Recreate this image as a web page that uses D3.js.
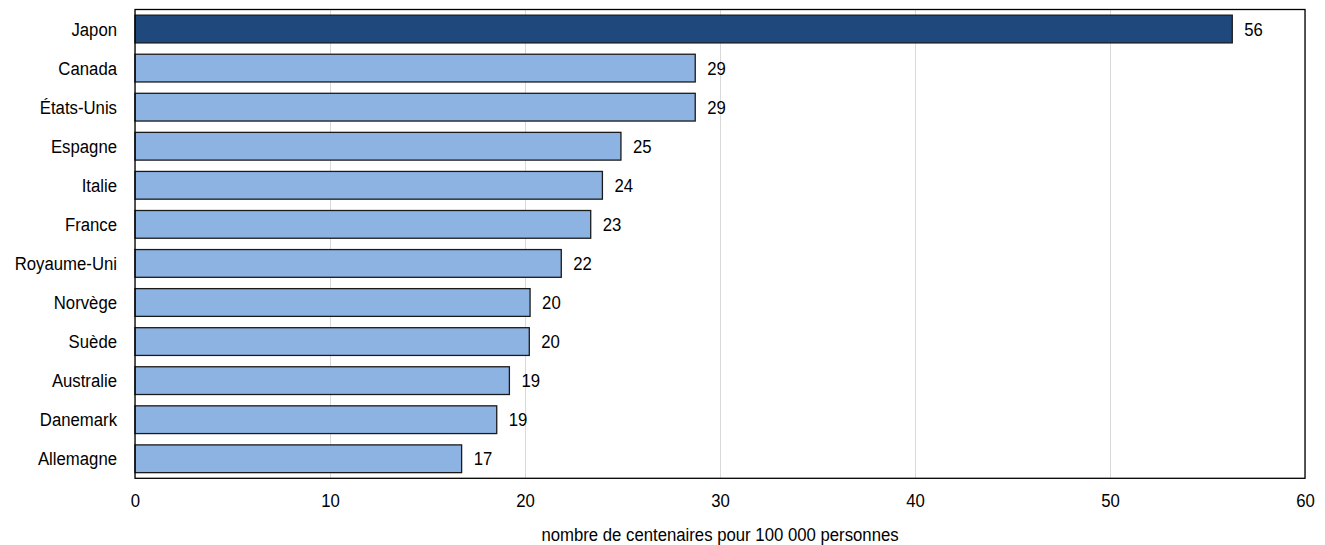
<!DOCTYPE html>
<html>
<head>
<meta charset="utf-8">
<script src="https://cdn.jsdelivr.net/npm/d3@7"></script>
<style>
  html, body { margin: 0; padding: 0; background: #fff; }
  svg text { font-family: "Liberation Sans", Arial, sans-serif; fill: #000; }
</style>
</head>
<body>
<svg id="chart" width="1325" height="545"></svg>
<script>
const categories = ["Japon", "Canada", "États-Unis", "Espagne", "Italie", "France", "Royaume-Uni", "Norvège", "Suède", "Australie", "Danemark", "Allemagne"];
const values = [56.27, 28.73, 28.73, 24.92, 23.97, 23.37, 21.86, 20.26, 20.22, 19.2, 18.55, 16.75];
const valueLabels = ["56", "29", "29", "25", "24", "23", "22", "20", "20", "19", "19", "17"];
const highlighted = ["Japon"];
const xTicks = [0, 10, 20, 30, 40, 50, 60];
const xTitle = "nombre de centenaires pour 100 000 personnes";

const svg = d3.select("#chart");
const plotLeft = 135, plotRight = 1305, plotTop = 9.5, plotBottom = 478.3;
const fontSize = 18.6;
const squeeze = 0.9;
const place = (px, py) => `translate(${px},${py}) scale(${squeeze},1)`;

const x = d3.scaleLinear().domain([0, 60]).range([plotLeft, plotRight]);
const y = d3.scaleBand().domain(categories).range([plotTop, plotBottom]).paddingInner(0.29).paddingOuter(0.145);

// gridlines
svg.append("g")
  .attr("transform", `translate(0,${plotBottom})`)
  .call(d3.axisBottom(x).tickValues(xTicks).tickSize(-(plotBottom - plotTop)).tickFormat(""))
  .call(g => g.select(".domain").remove())
  .call(g => g.selectAll("line").attr("stroke", "#d9d9d9").attr("stroke-width", 1));

// bars
svg.append("g").selectAll("rect")
  .data(categories)
  .join("rect")
  .attr("x", x(0))
  .attr("y", (d) => y(d))
  .attr("width", (d, i) => x(values[i]) - x(0))
  .attr("height", y.bandwidth())
  .attr("fill", d => highlighted.includes(d) ? "#1f497d" : "#8db3e2")
  .attr("stroke", "#1a1a1a")
  .attr("stroke-width", 1.3);

// frame
svg.append("rect")
  .attr("x", plotLeft).attr("y", plotTop)
  .attr("width", plotRight - plotLeft).attr("height", plotBottom - plotTop)
  .attr("fill", "none").attr("stroke", "#000").attr("stroke-width", 1.3);

// value labels
svg.append("g").selectAll("text")
  .data(categories)
  .join("text")
  .attr("transform", (d, i) => place(x(values[i]) + 12, y(d) + y.bandwidth() / 2 + 6.6))
  .attr("font-size", fontSize)
  .text((d, i) => valueLabels[i]);

// category labels
svg.append("g").selectAll("text")
  .data(categories)
  .join("text")
  .attr("transform", d => place(117, y(d) + y.bandwidth() / 2 + 6.6))
  .attr("text-anchor", "end")
  .attr("font-size", fontSize)
  .text(d => d);

// x axis tick labels
svg.append("g")
  .attr("transform", `translate(0,${plotBottom})`)
  .call(d3.axisBottom(x).tickValues(xTicks).tickSize(0).tickPadding(0).tickFormat(d3.format("d")))
  .call(g => g.select(".domain").remove())
  .call(g => g.attr("font-family", null).attr("font-size", null))
  .call(g => g.selectAll("text")
    .attr("font-size", fontSize)
    .attr("dy", null)
    .attr("y", null)
    .attr("transform", place(0, 28.5)));

// axis title
svg.append("text")
  .attr("transform", place((plotLeft + plotRight) / 2, 540.5))
  .attr("text-anchor", "middle")
  .attr("font-size", fontSize)
  .text(xTitle);
</script>
</body>
</html>
